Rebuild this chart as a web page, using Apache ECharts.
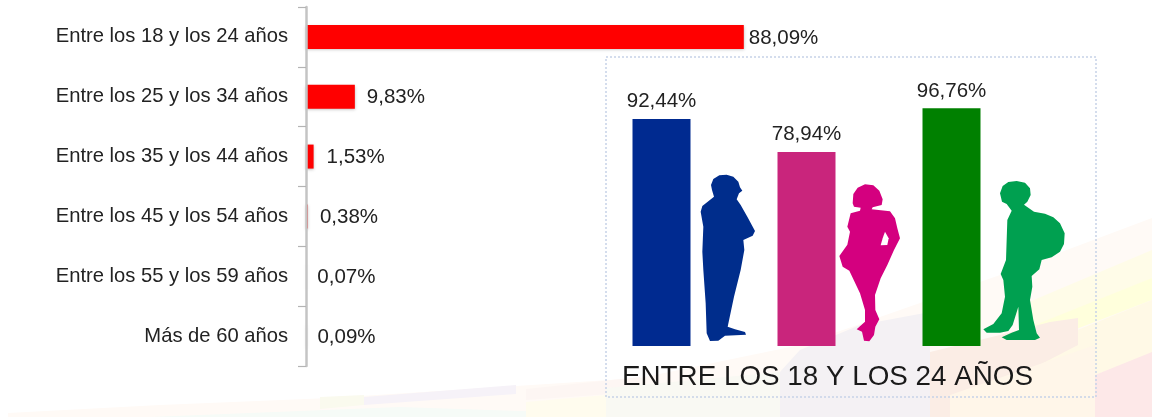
<!DOCTYPE html>
<html>
<head>
<meta charset="utf-8">
<script src="https://cdn.jsdelivr.net/npm/echarts@6/dist/echarts.min.js"></script>
<style>
html,body{margin:0;padding:0;background:#fff;overflow:hidden}
#c{width:1152px;height:417px;filter:blur(0.45px)}
</style>
</head>
<body>
<div id="c"></div>
<script>
const ageCategories = ['Entre los 18 y los 24 años','Entre los 25 y los 34 años','Entre los 35 y los 44 años','Entre los 45 y los 54 años','Entre los 55 y los 59 años','Más de 60 años'];
const ageValues = [88.09, 9.83, 1.53, 0.38, 0.07, 0.09];
const ageLabelGaps = [5, 12, 13, 12, 11, 11];
const genderGroups = ['Hombres','Mujeres','Jóvenes'];
const genderValues = [92.44, 78.94, 96.76];
const genderColors = ['#002a90','#c9257c','#008000'];
const insetTitle = 'ENTRE LOS 18 Y LOS 24 AÑOS';

const fmt = v => v.toFixed(2).replace('.', ',') + '%';
const font = '"Liberation Sans", Arial, sans-serif';

const manShape = [[63,45],[70,27],[88,16],[110,14],[130,20],[145,35],[150,52],[157,62],[147,70],[140,88],[152,105],[172,140],[195,183],[188,197],[160,210],[163,240],[152,300],[132,380],[113,470],[135,478],[165,486],[168,494],[105,497],[85,512],[60,513],[50,490],[47,400],[40,300],[37,245],[40,170],[32,125],[37,108],[72,80],[66,60]];
const womanShape = [[488,100],[490,72],[503,53],[525,43],[550,46],[568,62],[578,88],[575,105],[548,112],[545,118],[600,124],[615,145],[622,175],[630,205],[612,240],[592,285],[572,325],[555,375],[556,420],[568,448],[556,470],[552,495],[538,514],[522,512],[516,485],[500,478],[525,455],[525,420],[510,370],[478,302],[458,290],[448,258],[472,224],[480,185],[472,170],[482,130],[510,122],[512,113],[492,110]];
const womanGap = [[585,185],[596,205],[592,225],[572,226],[578,205]];
const boyShape = [[90,70],[98,48],[115,36],[140,33],[165,38],[180,55],[182,75],[172,95],[162,104],[192,125],[225,131],[250,142],[270,160],[284,190],[282,222],[270,245],[245,262],[215,270],[208,298],[185,318],[187,350],[180,390],[190,450],[200,490],[210,503],[195,510],[110,510],[95,502],[125,488],[147,480],[145,410],[128,465],[115,483],[90,488],[50,488],[40,478],[70,462],[95,430],[105,380],[100,330],[92,312],[108,270],[112,150],[125,122],[110,102],[96,95]];

const ribbons = [
  [[8,417],[8,413],[160,405],[330,398],[516,386],[640,378],[800,345],[1000,275],[1152,218],[1152,417]],'#fffaf6',
  [[364,397],[516,385],[516,394],[364,405]],'#f6f2f8',
  [[526,389],[640,377],[640,392],[526,400]],'#fdf6f3',
  [[320,397],[364,395],[364,405],[320,409]],'#fafaee',
  [[150,417],[400,407],[700,417]],'#f6fbf7',
  [[526,402],[640,392],[640,417],[526,417]],'#fffcee',
  [[1010,310],[1152,250],[1152,290],[1040,335]],'#fffce8',
  [[1035,325],[1152,278],[1152,300],[1035,345]],'#ffffdc',
  [[1040,345],[1152,300],[1152,355],[1095,375],[1040,380]],'#fff9e6',
  [[780,372],[800,350],[860,325],[930,312],[930,417],[780,417]],'#f4f1f4',
  [[606,388],[780,372],[780,417],[606,417]],'#f9f9f3',
  [[930,352],[1000,335],[1050,322],[1078,318],[1078,345],[1020,375],[950,417],[930,417]],'#fbede5',
  [[950,395],[1095,345],[1095,417],[950,417]],'#fff6e9',
  [[1095,375],[1152,352],[1152,417],[1095,417]],'#fde8e8'
];
const backdrop = [];
for (let i = 0; i < ribbons.length; i += 2) {
  backdrop.push({type:'polygon', z:-10, silent:true, shape:{points:ribbons[i]}, style:{fill:ribbons[i+1]}});
}

const chart = echarts.init(document.getElementById('c'), null, {renderer:'canvas'});
chart.setOption({
  animation:false,
  backgroundColor:'#ffffff',
  title:{text:insetTitle,left:617,top:358,textStyle:{fontFamily:font,fontSize:27.8,fontWeight:'normal',color:'#1a1a1a'}},
  grid:[
    {left:306,top:7,width:497,height:359},
    {left:589,top:100.4,width:435,height:245.6}
  ],
  xAxis:[
    {gridIndex:0,type:'value',min:0,max:100,show:false},
    {gridIndex:1,type:'category',data:genderGroups,show:false}
  ],
  yAxis:[
    {gridIndex:0,type:'category',inverse:true,data:ageCategories,z:6,
     axisLine:{lineStyle:{color:'#c4c4c4',width:2.5}},
     axisTick:{show:true,length:8,alignWithLabel:false,lineStyle:{color:'#b4b4b4',width:1.2}},
     axisLabel:{margin:18,padding:[2,0,0,0],fontFamily:font,fontSize:20.2,color:'#222'},splitLine:{show:false}},
    {gridIndex:1,type:'value',min:0,max:100,show:false}
  ],
  series:[
    {type:'bar',xAxisIndex:0,yAxisIndex:0,barWidth:24,z:3,
     itemStyle:{color:'#ff0000',shadowBlur:3,shadowColor:'rgba(90,90,90,0.4)',shadowOffsetY:1},
     data:ageValues.map((v,i)=>({value:v,label:{distance:ageLabelGaps[i]}})),
     label:{show:true,position:'right',offset:[0,1],fontFamily:font,fontSize:20.5,color:'#222',formatter:p=>fmt(p.value)}},
    {type:'bar',xAxisIndex:1,yAxisIndex:1,barWidth:58,z:3,
     data:genderValues.map((v,i)=>({value:v,itemStyle:{color:genderColors[i]}})),
     label:{show:true,position:'top',distance:7,fontFamily:font,fontSize:20.5,color:'#222',formatter:p=>fmt(p.value)}}
  ],
  graphic:{elements:backdrop.concat([
    {type:'rect',z:-5,silent:true,shape:{x:606,y:57,width:490,height:340},style:{fill:'rgba(255,255,255,0)',stroke:'#c6d2e8',lineWidth:1.5,lineDash:[2,2]}},
    {type:'polygon',z:2,silent:true,x:690,y:170,scaleX:1/3,scaleY:1/3,shape:{points:manShape},style:{fill:'#002d8c'}},
    {type:'polygon',z:2,silent:true,x:690,y:170,scaleX:1/3,scaleY:1/3,shape:{points:womanShape},style:{fill:'#d4007f'}},
    {type:'polygon',z:2,silent:true,x:690,y:170,scaleX:1/3,scaleY:1/3,shape:{points:womanGap},style:{fill:'#ffffff'}},
    {type:'polygon',z:2,silent:true,x:970,y:170,scaleX:1/3,scaleY:1/3,shape:{points:boyShape},style:{fill:'#00a050'}}
  ])}
});
</script>
</body>
</html>
